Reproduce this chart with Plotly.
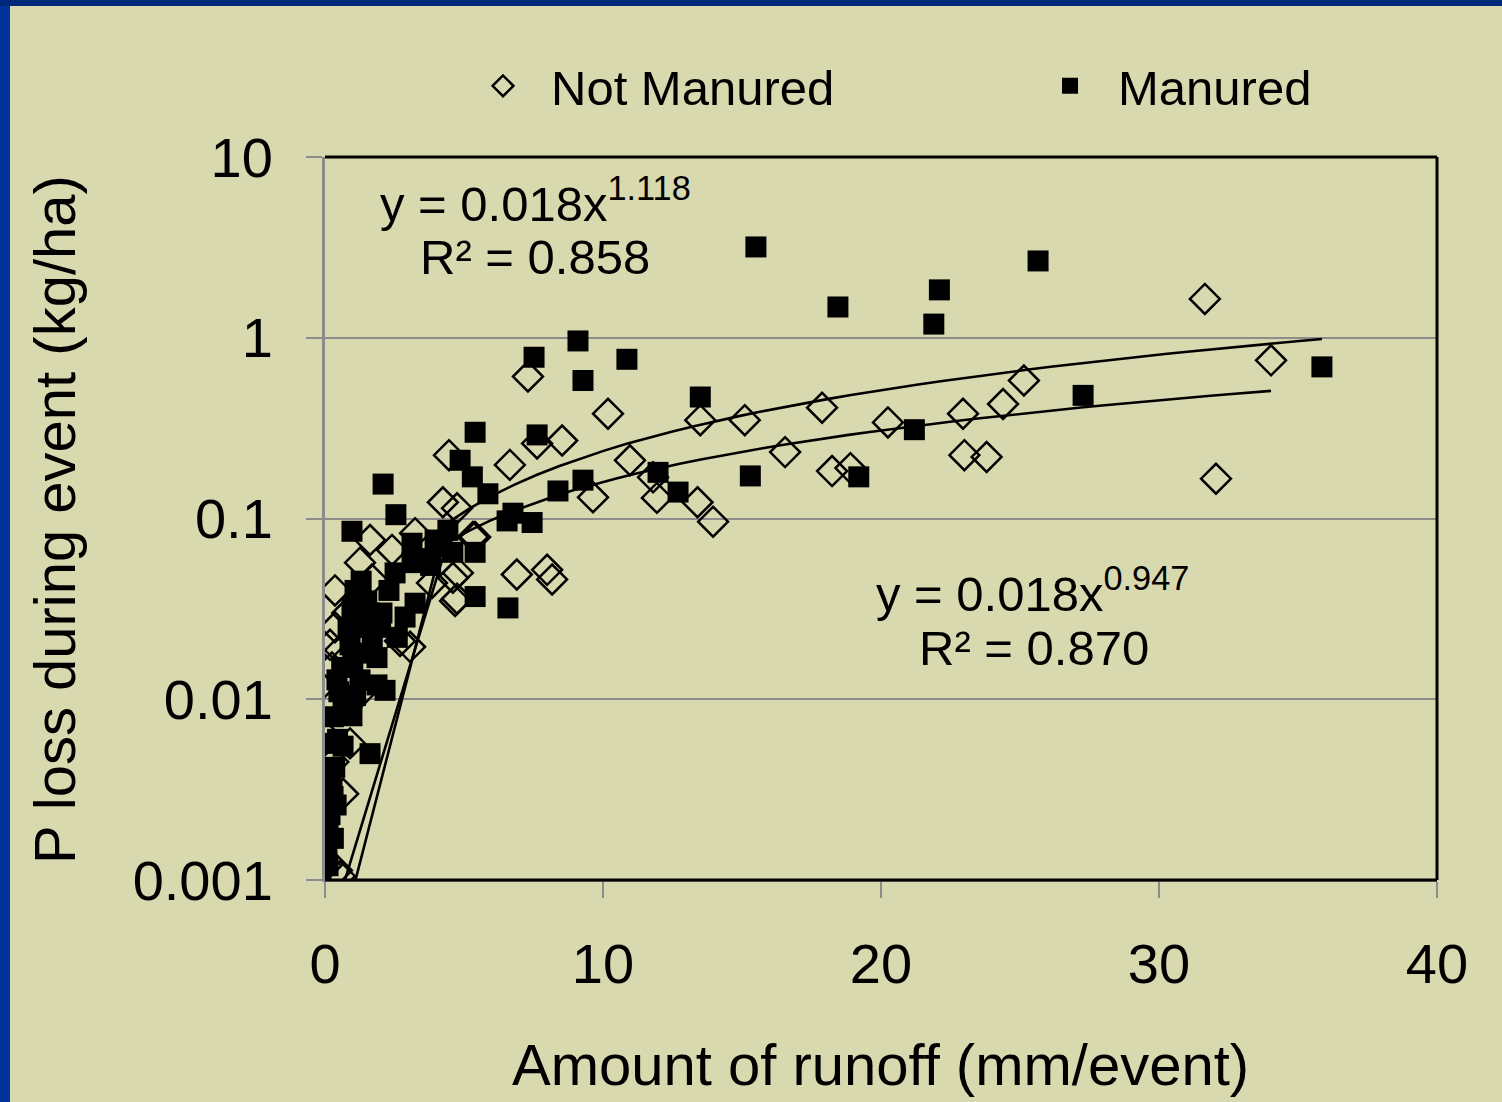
import numpy as np
import plotly.graph_objects as go

# ---------------- data ----------------
not_manured_x = [31.65, 34.03, 32.05, 25.14, 24.39, 22.95, 23.0, 23.8, 20.25, 17.88,
                 18.24, 18.9, 16.55, 15.1, 13.5, 13.96, 13.4, 11.94, 11.8, 10.97,
                 10.18, 9.64, 8.53, 7.63, 7.3, 6.65, 4.46, 4.24, 4.75, 5.32,
                 6.9, 7.99, 8.17, 4.6, 4.75, 1.62, 1.26, 0.36, 3.24, 2.41,
                 4.78, 4.68, 0.36, 1.69, 3.85, 5.4, 0.18, 0.54, 3.06, 2.7,
                 1.26, 0.05, 0.9, 0.43, 0.05, 0.54, 0.05, 0.65, 0.3, 0.25,
                 0.8, 0.15]
not_manured_y = [1.64, 0.75, 0.166, 0.58, 0.43, 0.38, 0.224, 0.219, 0.34, 0.41,
                 0.183, 0.19, 0.233, 0.35, 0.35, 0.096, 0.123, 0.13, 0.169, 0.21,
                 0.38, 0.131, 0.27, 0.26, 0.61, 0.198, 0.224, 0.123, 0.114, 0.079,
                 0.049, 0.052, 0.046, 0.047, 0.036, 0.076, 0.057, 0.040, 0.083, 0.067,
                 0.050, 0.035, 0.025, 0.046, 0.044, 0.079, 0.020, 0.0187, 0.0195, 0.021,
                 0.0108, 0.0062, 0.0057, 0.00113, 0.0012, 0.00105, 0.00175, 0.0030, 0.0045, 0.015,
                 0.030, 0.009]

manured_x = [15.5, 25.65, 22.1, 18.45, 21.9, 9.1, 10.86, 7.52, 9.28, 35.86,
             13.5, 27.27, 21.2, 5.4, 7.63, 15.3, 19.2, 9.28, 11.98, 12.7,
             8.38, 5.86, 4.86, 5.3, 6.76, 7.45, 6.55, 5.4, 6.58, 5.4,
             4.42, 2.09, 2.55, 0.97, 3.13, 3.96, 3.13, 2.52, 1.08, 0.97,
             3.24, 2.88, 2.05, 1.44, 0.83, 0.9, 1.87, 1.0, 0.43, 1.26,
             1.87, 2.16, 0.65, 0.97, 0.18, 0.65, 1.62, 0.18, 0.29, 0.18,
             0.11, 0.07, 0.11, 1.5, 1.3, 2.3, 1.7, 0.6, 1.2, 2.6,
             3.6, 4.2, 4.6, 3.8, 1.6, 0.5, 0.3, 0.45, 0.35, 0.25,
             0.4, 0.3, 2.0, 1.1]
manured_y = [3.18, 2.66, 1.84, 1.48, 1.19, 0.96, 0.76, 0.78, 0.58, 0.69,
             0.47, 0.48, 0.31, 0.30, 0.29, 0.172, 0.17, 0.163, 0.18, 0.14,
             0.142, 0.137, 0.21, 0.17, 0.107, 0.095, 0.097, 0.037, 0.032, 0.065,
             0.086, 0.155, 0.105, 0.085, 0.073, 0.076, 0.057, 0.050, 0.040, 0.032,
             0.034, 0.0285, 0.030, 0.025, 0.025, 0.020, 0.017, 0.0155, 0.0128, 0.0128,
             0.012, 0.0112, 0.0087, 0.0081, 0.0057, 0.0055, 0.0050, 0.0036, 0.0029, 0.0023,
             0.0019, 0.0015, 0.0012, 0.035, 0.045, 0.040, 0.020, 0.015, 0.018, 0.022,
             0.060, 0.070, 0.065, 0.055, 0.030, 0.011, 0.008, 0.006, 0.0042, 0.0032,
             0.0026, 0.0017, 0.025, 0.0105]

# power trendlines shown on the chart: y = a * x^b
manured_fit = dict(a=0.018, b=1.118, r2="0.858")
not_manured_fit = dict(a=0.018, b=0.947, r2="0.870")

x_ticks = [0, 10, 20, 30, 40]
y_ticks = [0.001, 0.01, 0.1, 1, 10]
y_ticklabels = ["0.001", "0.01", "0.1", "1", "10"]

# ---------------- style ----------------
FONT = "Liberation Sans, Arial, sans-serif"
BG = "#D9D9AF"
GRID = "#8C8C8C"
W, H = 1502, 1102
ML, MR, MT, MB = 325, 65, 157, 222
PW, PH = W - ML - MR, H - MT - MB


def px_x(p):
    return (p - ML) / PW


def px_y(p):
    return (H - MB - p) / PH


def trend(fit, xs_data):
    # Excel-like sampling: first sample at a tiny x, then a fine grid
    xs = np.concatenate([[0.02], np.linspace(4.4, max(xs_data), 40)])
    return xs, fit["a"] * xs ** fit["b"]


fig = go.Figure()

fig.add_trace(go.Scatter(
    x=not_manured_x, y=not_manured_y, mode="markers", name="Not Manured", legend="legend",
    marker=dict(symbol="diamond-open", size=23, color="black", line=dict(width=2.5, color="black")),
))
fig.add_trace(go.Scatter(
    x=manured_x, y=manured_y, mode="markers", name="Manured", legend="legend2",
    marker=dict(symbol="square", size=21, color="black", line=dict(width=0)),
))
for fit, xs in ((manured_fit, manured_x), (not_manured_fit, not_manured_x)):
    tx, ty = trend(fit, xs)
    fig.add_trace(go.Scatter(x=tx, y=ty, mode="lines", showlegend=False,
                             line=dict(color="black", width=2.6), hoverinfo="skip"))

shapes = []
# slide frame: blue bands at top and left
shapes.append(dict(type="rect", xref="paper", yref="paper", x0=px_x(0), x1=px_x(W),
                   y0=px_y(6), y1=px_y(0), fillcolor="#00287A", line=dict(width=0), layer="above"))
shapes.append(dict(type="rect", xref="paper", yref="paper", x0=px_x(0), x1=px_x(10),
                   y0=px_y(H), y1=px_y(6), fillcolor="#00339C", line=dict(width=0), layer="above"))
# plot area border (top, right, bottom black)
for (x0, y0, x1, y1) in ((0, 1, 1, 1), (1, 0, 1, 1), (0, 0, 1, 0)):
    shapes.append(dict(type="line", xref="paper", yref="paper", x0=x0, y0=y0, x1=x1, y1=y1,
                       line=dict(color="black", width=3), layer="above"))

annotations = [
    dict(text="y = 0.018x<sup>%s</sup>" % manured_fit["b"], x=px_x(535), y=px_y(200)),
    dict(text="R² = %s" % manured_fit["r2"], x=px_x(535), y=px_y(257)),
    dict(text="y = 0.018x<sup>%s</sup>" % not_manured_fit["b"], x=px_x(1032), y=px_y(590)),
    dict(text="R² = %s" % not_manured_fit["r2"], x=px_x(1034), y=px_y(648)),
]
for a in annotations:
    a.update(xref="paper", yref="paper", showarrow=False, xanchor="center", yanchor="middle",
             font=dict(family=FONT, size=49, color="black"))
annotations.append(dict(text="Amount of runoff (mm/event)", xref="paper", yref="paper",
                        x=px_x(880), y=px_y(1064), showarrow=False, xanchor="center", yanchor="middle",
                        font=dict(family=FONT, size=58, color="black")))
annotations.append(dict(text="P loss during event (kg/ha)", xref="paper", yref="paper",
                        x=px_x(54), y=px_y(520), showarrow=False, xanchor="center", yanchor="middle",
                        textangle=-90, font=dict(family=FONT, size=58, color="black")))

legend_style = dict(orientation="h", xanchor="left", y=px_y(86), yanchor="middle",
                    font=dict(family=FONT, size=49, color="black"), bgcolor="rgba(0,0,0,0)",
                    itemwidth=86)

fig.update_layout(
    width=W, height=H,
    margin=dict(l=ML, r=MR, t=MT, b=MB, pad=0),
    paper_bgcolor=BG, plot_bgcolor="rgba(0,0,0,0)",
    font=dict(family=FONT, color="black"),
    shapes=shapes, annotations=annotations,
    showlegend=True,
    legend=dict(x=px_x(455), **legend_style),
    legend2=dict(x=px_x(1022), **legend_style),
    xaxis=dict(range=[0, 40], tickvals=x_ticks, ticks="outside", ticklen=16, tickwidth=2,
               tickcolor=GRID, showgrid=False, zeroline=False, showline=True, linecolor=GRID,
               linewidth=2, tickfont=dict(family=FONT, size=56), ticklabelstandoff=18),
    yaxis=dict(type="log", range=[-3, 1], tickvals=y_ticks, ticktext=y_ticklabels,
               ticks="outside", ticklen=16, tickwidth=2, tickcolor=GRID,
               showgrid=True, gridcolor=GRID, gridwidth=2, zeroline=False,
               showline=True, linecolor=GRID, linewidth=3,
               tickfont=dict(family=FONT, size=56), ticklabelstandoff=22),
)

fig.write_html("out.html")
